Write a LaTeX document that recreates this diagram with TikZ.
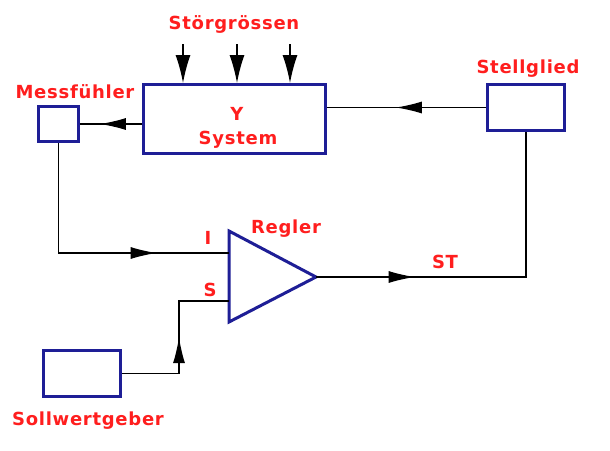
\documentclass[tikz,border=0pt]{standalone}
\usepackage{fontspec}
\setmainfont{DejaVu Sans}[LetterSpace=4]
\usetikzlibrary{arrows.meta,decorations.markings}
\definecolor{Navy}{HTML}{1E1E96}
\definecolor{Red}{HTML}{FF1E1E}

\begin{document}
\begin{tikzpicture}[x=1pt,y=-1pt,
  block/.style={draw=Navy,line width=3pt,inner sep=0pt},
  lbl/.style={text=Red,font=\fontsize{18}{20}\selectfont\bfseries},
  wire/.style={line width=1.2pt},
  arrowat/.style={postaction={decorate},decoration={markings,
    mark=at position #1 with {\arrow{Latex[length=26pt,width=12pt]}}}}]
  \useasboundingbox[fill=white] (0,0) rectangle (610,450);

  % blocks
  \node[block,minimum width=182pt,minimum height=69pt] (sys) at (234.5,119) {};
  \node[block,minimum width=40pt,minimum height=35pt] (mess) at (58.5,124) {};
  \node[block,minimum width=77pt,minimum height=46pt] (stell) at (526,107.5) {};
  \node[block,minimum width=77pt,minimum height=46pt] (soll) at (82,373.5) {};

  % Regler
  \coordinate (regI) at (229,253);
  \coordinate (regS) at (229,301);
  \coordinate (regO) at (316,277);
  \draw[Navy,line width=3pt,line join=miter] (229,231) -- (regO) -- (229,322) -- cycle;

  % texts
  \node[lbl] (stoer) at (234,24) {Störgrössen};
  \node[lbl] (ytxt) at (237,114) {Y};
  \node[lbl] (systxt) at (238,140) {System};
  \node[lbl] (messtxt) at (75,92) {Messfühler};
  \node[lbl] (stelltxt) at (528,69) {Stellglied};
  \node[lbl] (regtxt) at (286,229) {Regler};
  \node[lbl] (itxt) at (208,238) {I};
  \node[lbl] (stxt) at (210,290) {S};
  \node[lbl] (sttxt) at (445,262) {ST};
  \node[lbl] (solltxt) at (88,421) {Sollwertgeber};

  % disturbances
  \foreach \x/\n in {183/s1,237/s2,290/s3} {
    \coordinate (\n) at (\x,44);
    \draw[wire,-{Latex[length=28pt,width=15pt]}] (\n) -- (sys.north -| \n);
  }

  % connectors
  \draw[wire,arrowat=0.567] (stell.west) -- (stell.west -| sys.east);
  \draw[wire,arrowat=0.68] (sys.west |- mess.east) -- (mess.east);
  \draw[wire,arrowat=0.742] (mess.south) |- (regI);
  \coordinate (knee) at (179,301);
  \draw[wire,arrowat=0.52] (soll.east) -| (knee) -- (regS);
  \draw[wire,arrowat=0.278] (regO) -| (stell.south);
\end{tikzpicture}
\end{document}
